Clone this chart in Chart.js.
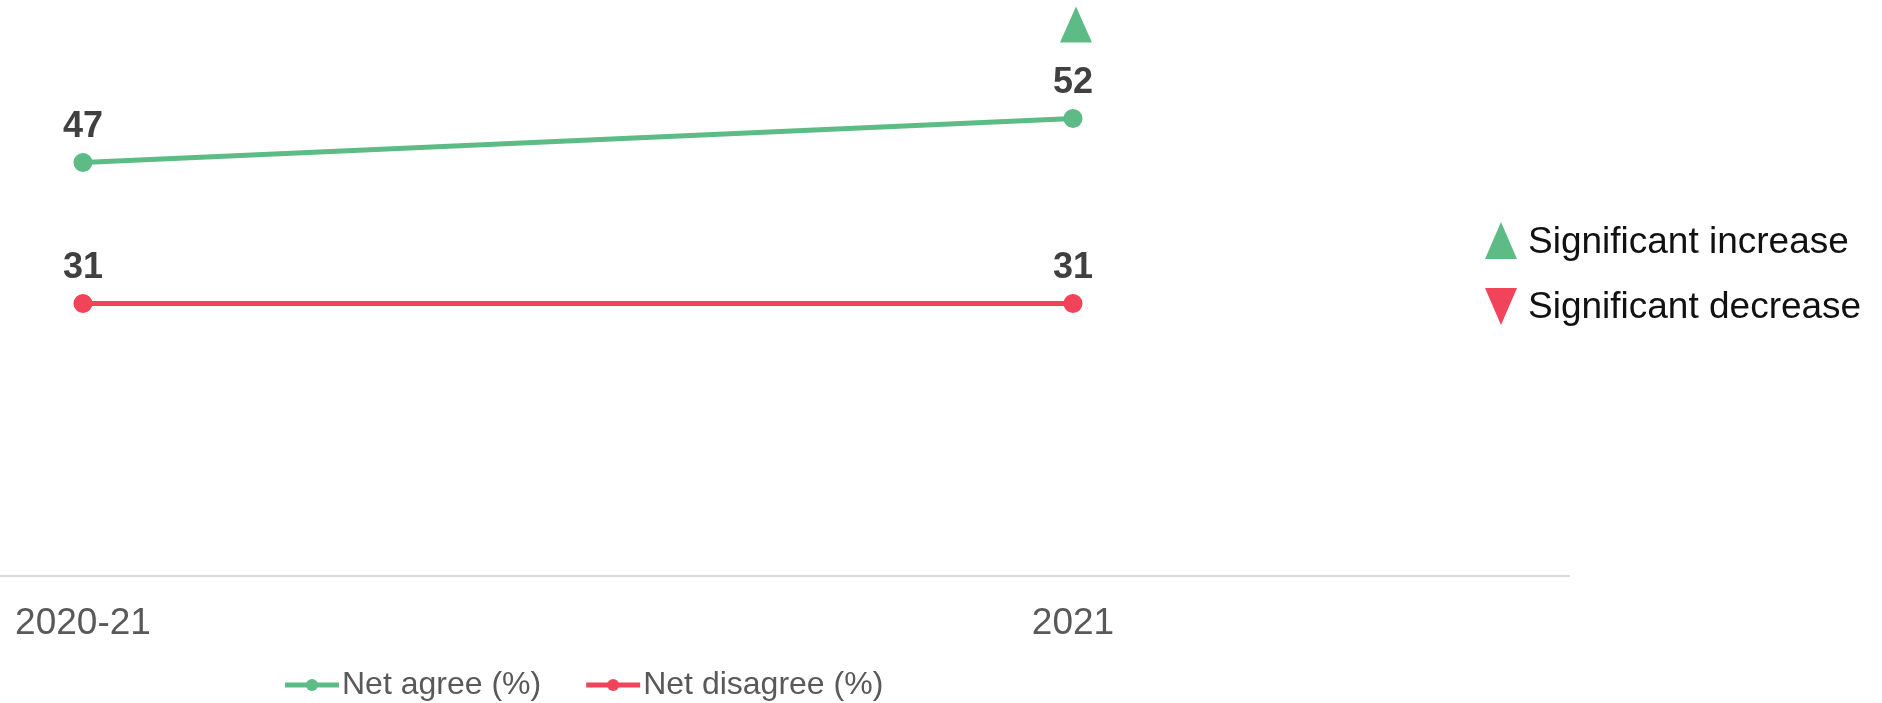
<!DOCTYPE html>
<html>
<head>
<meta charset="utf-8">
<script src="https://cdn.jsdelivr.net/npm/chart.js@4.4.1/dist/chart.umd.min.js"></script>
<style>
  html, body { margin: 0; padding: 0; background: #fff; }
  #wrap { position: relative; width: 1882px; height: 703px; overflow: hidden; }
  canvas { display: block; }
  .tri { position: absolute; left: 1485px; width: 0; height: 0;
         border-left: 16.5px solid transparent; border-right: 16.5px solid transparent; }
  .tri.up { top: 222px; border-bottom: 37px solid #5DBB85; }
  .tri.down { top: 288px; border-top: 37px solid #F1435A; }
  .sigtxt { position: absolute; left: 1528px; font: 37px "Liberation Sans", Arial, sans-serif;
            line-height: 44px; color: #111; white-space: nowrap; }
</style>
</head>
<body>
<div id="wrap">
  <canvas id="trendChart" width="1882" height="703"></canvas>
  <div class="tri up"></div>
  <div class="sigtxt" style="top:219px">Significant increase</div>
  <div class="tri down"></div>
  <div class="sigtxt" style="top:284px">Significant decrease</div>
</div>
<script>
const categories = ['2020-21', '2021'];
const netAgree = [47, 52];
const netDisagree = [31, 31];
// significance vs previous wave: 'up', 'down' or ''
const agreeChange = ['', 'up'];
const disagreeChange = ['', ''];

const green = '#5DBB85';
const red = '#F1435A';

function toPoints(values) {
  return values.map((v, i) => ({ x: i, y: v }));
}

// legend marker: short line with a dot in the middle
function lineMarker(color) {
  const c = document.createElement('canvas');
  c.width = 56; c.height = 14;
  const g = c.getContext('2d');
  g.strokeStyle = color; g.lineWidth = 5;
  g.beginPath(); g.moveTo(1, 7); g.lineTo(55, 7); g.stroke();
  g.fillStyle = color;
  g.beginPath(); g.arc(28, 7, 6, 0, Math.PI * 2); g.fill();
  return c;
}
const markers = [lineMarker(green), lineMarker(red)];

const valueLabels = {
  id: 'valueLabels',
  afterDatasetsDraw(chart) {
    const ctx = chart.ctx;
    ctx.save();
    ctx.font = 'bold 36px "Liberation Sans", Arial, sans-serif';
    ctx.textAlign = 'center';
    ctx.textBaseline = 'middle';
    chart.data.datasets.forEach((ds, di) => {
      chart.getDatasetMeta(di).data.forEach((pt, i) => {
        ctx.fillStyle = '#404040';
        ctx.fillText(ds.data[i].y, pt.x, pt.y - 35);
        const sig = ds.change[i];
        if (sig) {
          const cx = pt.x + 3, cy = pt.y - 94;
          ctx.fillStyle = sig === 'up' ? green : red;
          ctx.beginPath();
          if (sig === 'up') {
            ctx.moveTo(cx, cy - 18); ctx.lineTo(cx + 16, cy + 18); ctx.lineTo(cx - 16, cy + 18);
          } else {
            ctx.moveTo(cx, cy + 18); ctx.lineTo(cx + 16, cy - 18); ctx.lineTo(cx - 16, cy - 18);
          }
          ctx.closePath();
          ctx.fill();
        }
      });
    });
    ctx.restore();
  }
};

// put the series legend where the original has it
const legendSpot = {
  id: 'legendSpot',
  afterLayout(chart) {
    const lg = chart.legend;
    lg.left = 240; lg.right = 1882;
    lg.top = 611; lg.bottom = 703;
  }
};

const ctx = document.getElementById('trendChart').getContext('2d');
const trendChart = new Chart(ctx, {
  type: 'line',
  data: {
    datasets: [{
      label: 'Net agree (%)',
      data: toPoints(netAgree),
      change: agreeChange,
      borderColor: green,
      backgroundColor: green,
      borderWidth: 5,
      pointRadius: 7,
      pointHoverRadius: 7,
      fill: false
    }, {
      label: 'Net disagree (%)',
      data: toPoints(netDisagree),
      change: disagreeChange,
      borderColor: red,
      backgroundColor: red,
      borderWidth: 5,
      pointRadius: 7,
      pointHoverRadius: 7,
      fill: false
    }]
  },
  options: {
    responsive: false,
    animation: false,
    layout: { autoPadding: false, padding: { top: 4, right: 313, left: 0, bottom: 0 } },
    scales: {
      x: {
        type: 'linear',
        min: -0.0838,
        max: 1.501,
        afterBuildTicks(scale) {
          scale.ticks = categories.map((c, i) => ({ value: i }));
        },
        grid: { display: false, drawTicks: false },
        border: { display: true, color: '#D9D9D9', width: 2 },
        ticks: {
          padding: 14,
          color: '#595959',
          font: { family: '"Liberation Sans", Arial, sans-serif', size: 37, lineHeight: 1.82 },
          maxRotation: 0,
          callback: (v) => categories[v]
        }
      },
      y: {
        display: false,
        min: 0,
        max: 65
      }
    },
    plugins: {
      tooltip: { enabled: false },
      legend: {
        position: 'bottom',
        align: 'start',
        maxHeight: 31.2,
        labels: {
          usePointStyle: true,
          pointStyleWidth: 28,
          padding: 58,
          color: '#595959',
          font: { family: '"Liberation Sans", Arial, sans-serif', size: 32 },
          generateLabels(chart) {
            const items = Chart.defaults.plugins.legend.labels.generateLabels(chart);
            items.forEach((it, i) => { it.pointStyle = markers[i]; it.fontColor = '#595959'; });
            return items;
          }
        }
      }
    }
  },
  plugins: [valueLabels, legendSpot]
});
</script>
</body>
</html>
